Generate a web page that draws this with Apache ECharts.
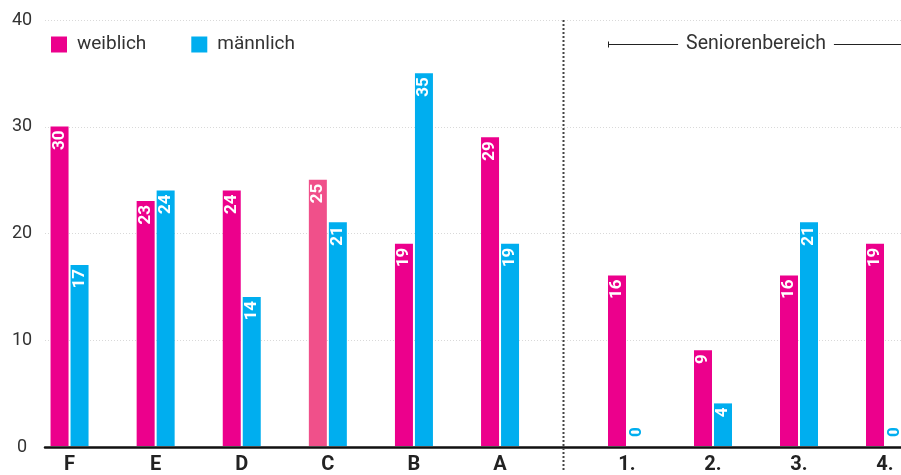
<!DOCTYPE html>
<html>
<head>
<meta charset="utf-8">
<script src="https://cdn.jsdelivr.net/npm/echarts@6/dist/echarts.min.js"></script>
<style>
  html, body { margin: 0; padding: 0; background: #fff; }
  #chart { width: 901px; height: 475px; }
</style>
</head>
<body>
<div id="chart"></div>
<script>
// Teams of the youth section and of the senior section
const categoriesMain = ['F', 'E', 'D', 'C', 'B', 'A'];
const categoriesSenior = ['1.', '2.', '3.', '4.'];

// Members per team
const femaleMain = [30, 23, 24, 25, 19, 29];
const maleMain = [17, 24, 14, 21, 35, 19];
const femaleSenior = [16, 9, 16, 19];
const maleSenior = [0, 4, 21, 0];

// Value axis
const yMin = 0;
const yMax = 40;
const yStep = 10;

const seniorTitle = 'Seniorenbereich';
const highlightedTeam = 'C';

const PINK = '#EC008C';
const PINK_LIGHT = '#F0508A';
const BLUE = '#00AEEF';
const FONT = 'Roboto';

const BAR_W = 18;
const BAR_GAP = 2;

const chart = echarts.init(document.getElementById('chart'), null, { renderer: 'canvas' });

const barLabel = {
  show: true,
  position: 'insideTop',
  distance: 4,
  rotate: 90,
  align: 'right',
  verticalAlign: 'middle',
  color: '#fff',
  fontFamily: FONT,
  fontWeight: 'bold',
  fontSize: 17
};

// Zero-height bars carry their label above the baseline in the series colour
function toData(values, cats, color, highlight) {
  return values.map((v, i) => {
    const item = { value: v };
    if (highlight && cats[i] === highlight) {
      item.itemStyle = { color: PINK_LIGHT };
    }
    if (v === 0) {
      item.label = {
        position: 'insideBottom',
        distance: 9,
        align: 'left',
        color: color
      };
    }
    return item;
  });
}

const hiddenY = (gi) => ({
  type: 'value', gridIndex: gi, min: yMin, max: yMax, interval: yStep,
  show: false
});

const catAxis = (gi, cats, boundaryGap) => ({
  type: 'category', gridIndex: gi, data: cats, boundaryGap: boundaryGap,
  axisLine: { show: false }, axisTick: { show: false },
  axisLabel: {
    margin: 9, color: '#222', fontFamily: FONT, fontWeight: 'bold', fontSize: 20
  },
  splitLine: { show: false }
});

function barSeries(name, values, cats, color, gi, highlight) {
  return {
    name: name,
    type: 'bar',
    xAxisIndex: gi,
    yAxisIndex: gi,
    data: toData(values, cats, color, highlight),
    color: color,
    barWidth: BAR_W,
    barGap: (BAR_GAP / BAR_W * 100) + '%',
    label: barLabel,
    emphasis: { disabled: true },
    z: 3
  };
}

const option = {
  animation: false,
  backgroundColor: '#fff',
  textStyle: { fontFamily: FONT },
  legend: {
    left: 51,
    top: 35,
    padding: 0,
    itemWidth: 16,
    itemHeight: 16,
    itemGap: 45,
    icon: 'rect',
    data: ['weiblich', 'männlich'],
    textStyle: { fontFamily: FONT, fontSize: 19, color: '#333', padding: [0, 0, 0, 5] }
  },
  grid: [
    // background frame: gridlines, value labels and baseline
    { left: 45, right: 0, top: 20, bottom: 28 },
    // youth teams
    { left: 26.5, width: 516.6, top: 20, bottom: 28 },
    // senior teams (categories sit on the grid edges)
    { left: 627, width: 258, top: 20, bottom: 28 }
  ],
  xAxis: [
    {
      type: 'value', gridIndex: 0, min: 0, max: 1,
      axisLine: { show: true, onZero: false, lineStyle: { color: '#111', width: 2.5 } },
      axisTick: { show: false }, axisLabel: { show: false }, splitLine: { show: false }
    },
    catAxis(1, categoriesMain, true),
    catAxis(2, categoriesSenior, false)
  ],
  yAxis: [
    {
      type: 'value', gridIndex: 0, min: yMin, max: yMax, interval: yStep,
      axisLine: { show: false }, axisTick: { show: false },
      axisLabel: { margin: 23, align: 'center', color: '#333', fontFamily: FONT, fontSize: 18 },
      splitLine: { show: true, lineStyle: { color: '#d9d9d9', type: [1, 2], width: 1 } }
    },
    hiddenY(1),
    hiddenY(2)
  ],
  series: [
    barSeries('weiblich', femaleMain, categoriesMain, PINK, 1, highlightedTeam),
    barSeries('männlich', maleMain, categoriesMain, BLUE, 1),
    barSeries('weiblich', femaleSenior, categoriesSenior, PINK, 2),
    barSeries('männlich', maleSenior, categoriesSenior, BLUE, 2)
  ]
};

chart.setOption(option);

// Divider between the sections and the bracket over the senior teams
const xLastMain = chart.convertToPixel({ xAxisIndex: 1 }, categoriesMain.length - 1);
const xFirstSenior = chart.convertToPixel({ xAxisIndex: 2 }, 0);
const xLastSenior = chart.convertToPixel({ xAxisIndex: 2 }, categoriesSenior.length - 1);
const yTop = chart.convertToPixel({ yAxisIndex: 0 }, yMax);
const yBase = chart.convertToPixel({ yAxisIndex: 0 }, yMin);
const divX = Math.round((xLastMain + xFirstSenior) / 2) - 0.5;
const half = BAR_W + BAR_GAP / 2;
const bracketY = 44.5;
const bracketL = xFirstSenior - half;
const bracketR = xLastSenior + half;

chart.setOption({
  graphic: [
    {
      type: 'line', z: 10,
      shape: { x1: divX, y1: yTop, x2: divX, y2: yBase + 25 },
      style: { stroke: '#444', lineWidth: 2, lineDash: [2, 2] }
    },
    {
      type: 'line', z: 10,
      shape: { x1: bracketL, y1: bracketY, x2: bracketR, y2: bracketY },
      style: { stroke: '#222', lineWidth: 1 }
    },
    {
      type: 'line', z: 10,
      shape: { x1: bracketL + 0.5, y1: bracketY - 3, x2: bracketL + 0.5, y2: bracketY + 3 },
      style: { stroke: '#222', lineWidth: 1 }
    },
    {
      type: 'text', z: 11,
      x: (xFirstSenior + xLastSenior) / 2,
      y: bracketY,
      style: {
        text: seniorTitle,
        fontFamily: FONT, fontSize: 19.5, fill: '#333',
        align: 'center', verticalAlign: 'middle',
        backgroundColor: '#fff', padding: [0, 8]
      }
    }
  ]
});
</script>
</body>
</html>
